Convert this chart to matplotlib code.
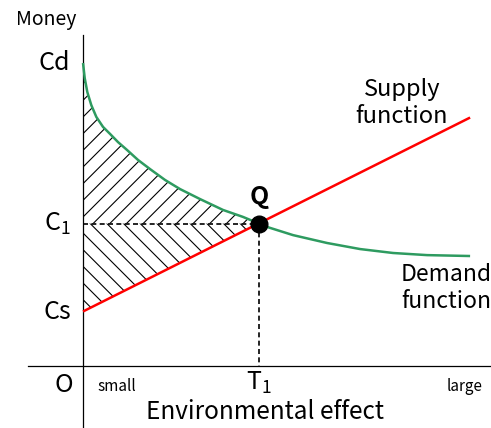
import matplotlib
matplotlib.use("Agg")
import matplotlib.pyplot as plt
import numpy as np

plt.rcParams['font.family'] = ['Noto Sans CJK JP', 'DejaVu Sans']
plt.rcParams['mathtext.fontset'] = 'custom'
plt.rcParams['mathtext.rm'] = 'Noto Sans CJK JP'
plt.rcParams['mathtext.default'] = 'regular'
plt.rcParams['hatch.linewidth'] = 0.8

# кривая спроса (точки)
demand_x = [0.0, 0.044, 0.111, 0.214, 0.344, 0.517, 0.698, 0.904, 1.137, 1.421,
            1.731, 2.119, 2.506, 3.023, 3.618, 4.134, 4.548, 4.755, 5.426, 6.305,
            7.158, 8.010, 8.889, 10.0]
demand_y = [10.0, 9.50, 9.04, 8.61, 8.22, 7.89, 7.66, 7.39, 7.13, 6.80,
            6.50, 6.14, 5.84, 5.51, 5.15, 4.92, 4.70, 4.59, 4.32, 4.06,
            3.86, 3.73, 3.66, 3.63]
# предложение
supply_x = [0.0, 10.0]
supply_y = [1.8, 8.2]
# равновесие
q_x = 4.548
q_y = 4.70

fig = plt.figure(figsize=(4.91, 4.28), dpi=100)
ax = fig.add_axes([0, 0, 1, 1])
ax.set_xlim(-2.145, 10.54)
ax.set_ylim(-2.046, 12.08)
ax.axis('off')

# оси
ax.plot([0, 0], [-2.1, 10.92], color='black', lw=0.9)
ax.plot([-1.42, 10.6], [0, 0], color='black', lw=0.9)

# штриховка
dx = np.array(demand_x)
dy = np.array(demand_y)
m = dx <= q_x + 1e-9
ax.fill_between(dx[m], dy[m], q_y, facecolor='none', edgecolor='black',
                hatch='//', linewidth=0)
sx = np.array([0.0, q_x])
sy = np.interp(sx, supply_x, supply_y)
ax.fill_between(sx, q_y, sy, facecolor='none', edgecolor='black',
                hatch='\\\\', linewidth=0)

# пунктир
ax.plot([0, q_x], [q_y, q_y], color='black', lw=1.2, ls=(0, (3, 2)))
ax.plot([q_x, q_x], [q_y, 0], color='black', lw=1.2, ls=(0, (3, 2)))

ax.plot(demand_x, demand_y, color='#2e9b60', lw=1.8, solid_capstyle='butt')
ax.plot(supply_x, supply_y, color='#ff0000', lw=1.8, solid_capstyle='butt')
ax.plot(q_x, q_y, 'o', color='black', markersize=12, zorder=5)

ax.text(-0.956, 11.42, 'Money', fontsize=14, ha='center', va='center')
ax.text(-0.33, 10.0, 'Cd', fontsize=18, ha='right', va='center')
ax.text(-0.33, q_y, 'C$_1$', fontsize=18, ha='right', va='center')
ax.text(-0.30, 1.78, 'Cs', fontsize=18, ha='right', va='center')
ax.text(-0.26, -0.63, 'O', fontsize=18, ha='right', va='center')
ax.text(0.36, -0.69, 'small', fontsize=11, ha='left', va='center')
ax.text(10.31, -0.66, 'large', fontsize=11, ha='right', va='center')
ax.text(q_x, -0.56, 'T$_1$', fontsize=18, ha='center', va='center')
ax.text(q_x, 5.58, 'Q', fontsize=18, ha='center', va='center', fontweight='bold')
ax.text(4.70, -1.52, 'Environmental effect', fontsize=17.5, ha='center', va='center')
ax.text(8.24, 8.68, 'Supply\nfunction', fontsize=17, ha='center', va='center',
        linespacing=1.25)
ax.text(9.38, 2.58, 'Demand\nfunction', fontsize=16.5, ha='center', va='center',
        linespacing=1.25)

fig.savefig('out.png', dpi=100)
